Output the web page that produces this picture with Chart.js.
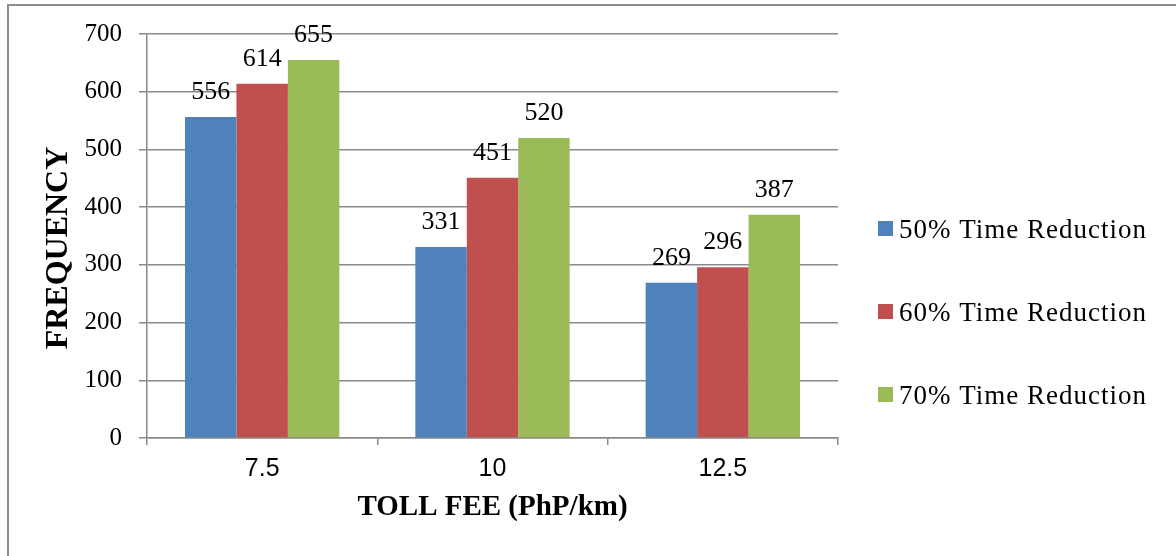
<!DOCTYPE html>
<html>
<head>
<meta charset="utf-8">
<script src="https://cdn.jsdelivr.net/npm/chart.js@4.4.1/dist/chart.umd.min.js"></script>
<style>
    html, body { margin: 0; padding: 0; background: #fff; }
    #frame {
        position: absolute; left: 7px; top: 4px; width: 1169px; height: 552px;
        border-left: 2px solid #8c8c8c; border-top: 2px solid #8c8c8c; box-sizing: border-box;
    }
    #wrap { position: absolute; left: 0; top: 0; width: 1176px; height: 556px; }
</style>
</head>
<body>
<div id="frame"></div>
<div id="wrap"><canvas id="mainChart"></canvas></div>
<script>
const categories = ['7.5', '10', '12.5'];
const seriesNames = ['50% Time Reduction', '60% Time Reduction', '70% Time Reduction'];
const reduction50 = [556, 331, 269];
const reduction60 = [614, 451, 296];
const reduction70 = [655, 520, 387];
const yTickValues = [0, 100, 200, 300, 400, 500, 600, 700];
const seriesColors = ['#4F81BD', '#C0504D', '#9BBB59'];

const serif = "'Liberation Serif', 'Times New Roman', serif";
const sans = "'Liberation Sans', Arial, sans-serif";
const gridColor = '#8a8a8a';

// value labels above each bar
const valueLabels = {
    id: 'valueLabels',
    afterDatasetsDraw(chart) {
        const ctx = chart.ctx;
        ctx.save();
        ctx.font = '26px ' + serif;
        ctx.fillStyle = '#000';
        ctx.textAlign = 'center';
        ctx.textBaseline = 'alphabetic';
        chart.data.datasets.forEach((ds, i) => {
            chart.getDatasetMeta(i).data.forEach((bar, j) => {
                ctx.fillText(String(ds.data[j]), bar.x, bar.y - 18);
            });
        });
        ctx.restore();
    }
};

// legend on the right, spaced like the original
const sideLegend = {
    id: 'sideLegend',
    afterDraw(chart) {
        const ctx = chart.ctx;
        const area = chart.chartArea;
        ctx.save();
        ctx.font = '27px ' + serif;
        ctx.letterSpacing = '1px';
        ctx.textBaseline = 'alphabetic';
        chart.data.datasets.forEach((ds, i) => {
            const cy = area.top + 194.5 + i * 83;
            ctx.fillStyle = ds.backgroundColor;
            ctx.fillRect(area.right + 40, cy - 7.5, 15, 15);
            ctx.fillStyle = '#000';
            ctx.fillText(ds.label, area.right + 61, cy + 9.5);
        });
        ctx.restore();
    }
};

const ctx = document.getElementById('mainChart').getContext('2d');
new Chart(ctx, {
    type: 'bar',
    data: {
        labels: categories,
        datasets: [
            { label: seriesNames[0], data: reduction50, backgroundColor: seriesColors[0] },
            { label: seriesNames[1], data: reduction60, backgroundColor: seriesColors[1] },
            { label: seriesNames[2], data: reduction70, backgroundColor: seriesColors[2] }
        ]
    },
    options: {
        responsive: true,
        maintainAspectRatio: false,
        animation: false,
        layout: { padding: { top: 34, right: 338, left: 0, bottom: 0 } },
        datasets: { bar: { categoryPercentage: 0.67, barPercentage: 1.0, borderWidth: 0 } },
        plugins: {
            legend: { display: false },
            tooltip: { enabled: false }
        },
        scales: {
            x: {
                afterFit: (scale) => { scale.height = 118; },
                grid: { offset: true, drawOnChartArea: false, drawTicks: true, tickLength: 7, color: gridColor, lineWidth: 1.5 },
                border: { color: gridColor, width: 1.5 },
                ticks: { color: '#000', padding: 9, font: { family: sans, size: 25 } },
                title: {
                    display: true,
                    text: 'TOLL FEE (PhP/km)',
                    color: '#000',
                    font: { family: serif, size: 29, weight: 'bold' },
                    padding: { top: 0, bottom: 31 }
                }
            },
            y: {
                min: 0,
                max: 700,
                afterFit: (scale) => { scale.width = 147; },
                afterBuildTicks: (scale) => { scale.ticks = yTickValues.map(v => ({ value: v })); },
                grid: { color: gridColor, lineWidth: 1.5, tickLength: 8 },
                border: { color: gridColor, width: 1.5 },
                ticks: { color: '#000', padding: 17, font: { family: serif, size: 25 } },
                title: {
                    display: true,
                    text: 'FREQUENCY   ',
                    color: '#000',
                    font: { family: serif, size: 32, weight: 'bold' },
                    padding: { top: 40, bottom: 0 }
                }
            }
        }
    },
    plugins: [valueLabels, sideLegend]
});
</script>
</body>
</html>
